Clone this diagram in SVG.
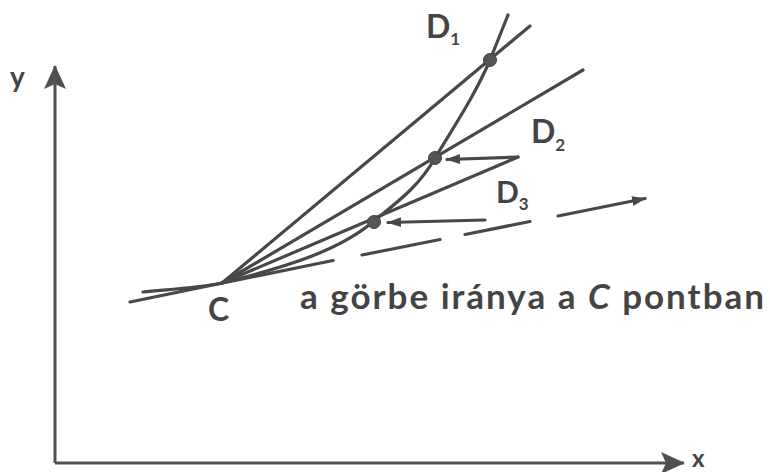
<svg xmlns="http://www.w3.org/2000/svg" width="770" height="472" viewBox="0 0 770 472">
<style>
.ln{stroke:#484848;stroke-width:3.2;fill:none;stroke-linecap:round}
.ax{stroke:#505050;stroke-width:3;fill:none}
.lbl{font-family:Lato,"Open Sans","Liberation Sans",sans-serif;font-weight:bold;fill:#444}
.pt{fill:#555;stroke:#444;stroke-width:1}
</style>
<defs>
<marker id="ah" viewBox="0 0 14 10" refX="13" refY="5" markerWidth="14" markerHeight="10" markerUnits="userSpaceOnUse" orient="auto">
<path d="M0,0 L14,5 L0,10 z" fill="#484848"/>
</marker>
<marker id="axh" viewBox="0 0 24 22" refX="23" refY="11" markerWidth="24" markerHeight="22" markerUnits="userSpaceOnUse" orient="auto">
<path d="M0,0 L24,11 L0,22 L5,11 z" fill="#505050"/>
</marker>
</defs>
<rect width="770" height="472" fill="#fff"/>
<g id="axes">
<line class="ax" x1="55" y1="463" x2="684" y2="463" marker-end="url(#axh)"/>
<line class="ax" x1="55" y1="463" x2="55" y2="66" marker-end="url(#axh)"/>
<text class="lbl" x="10" y="87" font-size="28">y</text>
<text class="lbl" x="692" y="467" font-size="24">x</text>
</g>
<g id="connectors">
<path id="curve" class="ln" d="M143,292 C175,289 200,287.6 222,283 C290,266 340,250 374,221 C400,200 420,185 435,158 C455,125 475,95 490,60 L508,15"/>
<line class="ln" x1="222" y1="283" x2="530" y2="26"/>
<line class="ln" x1="222" y1="283" x2="583" y2="70"/>
<line class="ln" x1="222" y1="283" x2="518" y2="157"/>
<line class="ln" x1="518" y1="157" x2="447" y2="159.5" marker-end="url(#ah)"/>
<line class="ln" x1="485" y1="220" x2="388" y2="222.5" marker-end="url(#ah)"/>
<g id="tangent">
<line class="ln" x1="130" y1="302" x2="333" y2="260.5"/>
<line class="ln" x1="362" y1="255" x2="440" y2="239.5"/>
<line class="ln" x1="465" y1="234.5" x2="530" y2="221.5"/>
<line class="ln" x1="558" y1="216" x2="645" y2="198.5" marker-end="url(#ah)"/>
</g>
</g>
<g id="C">
<text class="lbl" x="208" y="321" font-size="32">C</text>
</g>
<g id="D1">
<circle class="pt" cx="490" cy="60" r="6.5"/>
<text class="lbl" x="426" y="38" font-size="32">D<tspan font-size="17" dy="7">1</tspan></text>
</g>
<g id="D2">
<circle class="pt" cx="435" cy="158" r="6.5"/>
<text class="lbl" x="531" y="143" font-size="32">D<tspan font-size="17" dy="8">2</tspan></text>
</g>
<g id="D3">
<circle class="pt" cx="374" cy="222" r="6.5"/>
<text class="lbl" x="496" y="203" font-size="30">D<tspan font-size="17" dy="7">3</tspan></text>
</g>
<g id="caption">
<text class="lbl" x="300" y="309" font-size="35" textLength="464" lengthAdjust="spacing">a görbe iránya a <tspan font-style="italic">C</tspan> pontban</text>
</g>
</svg>
